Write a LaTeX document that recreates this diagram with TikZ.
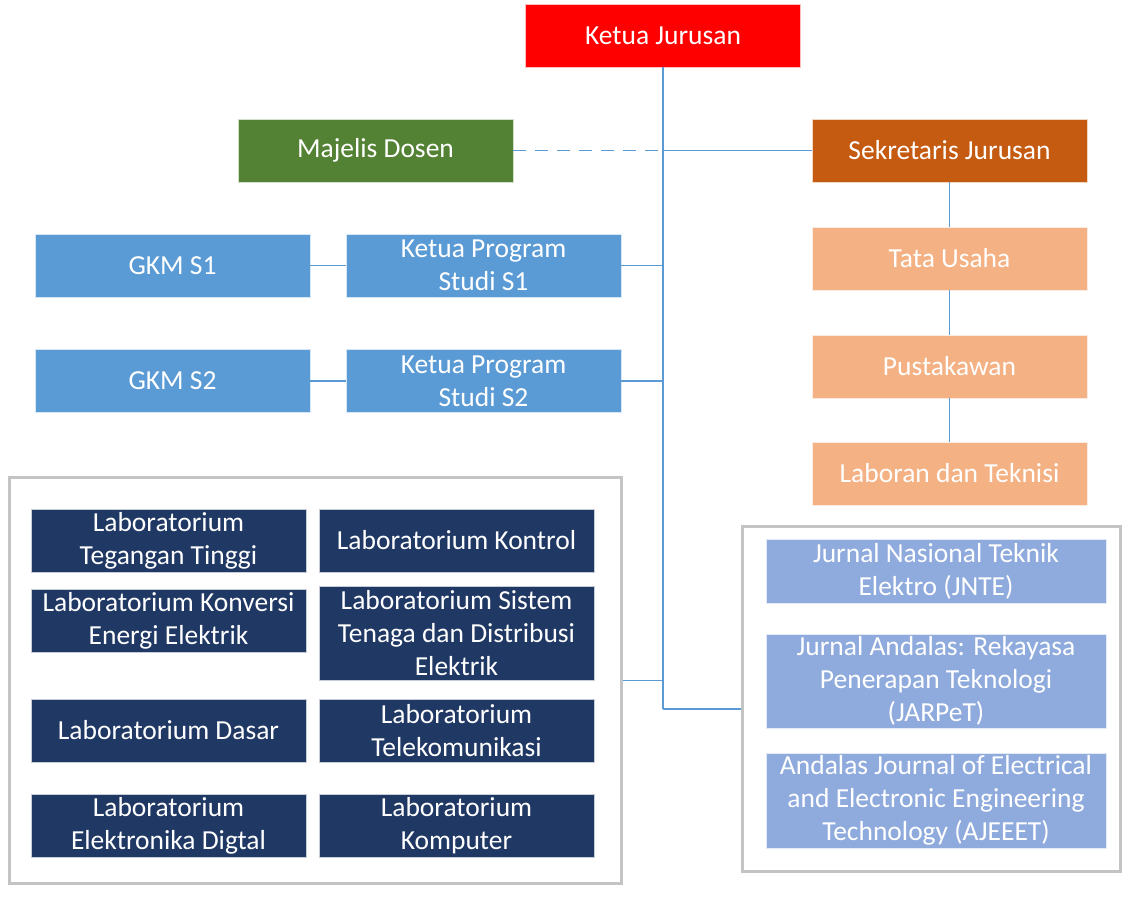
\documentclass[tikz,border=0pt]{standalone}
\usepackage{fontspec}
\setmainfont{Carlito}
\usepackage{tikz}
\usetikzlibrary{calc}
\definecolor{head-red}{RGB}{255,0,0}
\definecolor{council-green}{RGB}{84,130,53}
\definecolor{secretary-orange}{RGB}{197,90,17}
\definecolor{staff-peach}{RGB}{244,177,131}
\definecolor{study-blue}{RGB}{91,155,213}
\definecolor{lab-navy}{RGB}{32,56,100}
\definecolor{journal-blue}{RGB}{143,170,220}
\definecolor{frame-gray}{RGB}{196,196,196}
\definecolor{link-blue}{RGB}{91,155,213}
\tikzset{
    unit/.style = {
        fill=#1, text=white, draw=white!75!#1, line width=0.8pt,
        minimum width=275pt, minimum height=63pt, inner sep=0pt,
        align=center, font=\fontsize{27.5}{33}\selectfont
    },
    unit/.default={study-blue},
    frame/.style = {draw=frame-gray, line width=3pt, fill=white, inner sep=0pt},
    link/.style = {draw=link-blue, line width=1.6pt},
    link-dashed/.style = {link, dash pattern=on 13pt off 9pt},
}

\begin{document}
\begin{tikzpicture}[x=1pt,y=-1pt]
\useasboundingbox (0,0) rectangle (1130,898);

% frames
\node[frame, minimum width=612pt, minimum height=406pt] (labs) at (315.5,680.5) {};
\node[frame, minimum width=378pt, minimum height=345pt] (journals) at (931.5,699) {};

% top
\node[unit=head-red] (kajur) at (663,35.5) {Ketua Jurusan};
\node[unit=council-green] (majelis) at (375.5,150.5) {Majelis Dosen};
\node[unit=secretary-orange] (sekjur) at (949.5,150.5) {Sekretaris Jurusan};

% staff
\node[unit=staff-peach] (tu) at (949.5,258.5) {Tata Usaha};
\node[unit=staff-peach] (pustaka) at (949.5,366.5) {Pustakawan};
\node[unit=staff-peach] (laboran) at (949.5,473.5) {Laboran dan Teknisi};

% study programs
\node[unit] (gkm1) at (172.5,265.5) {GKM S1};
\node[unit] (kps1) at (483.5,265.5) {Ketua Program\\Studi S1};
\node[unit] (gkm2) at (172.5,381) {GKM S2};
\node[unit] (kps2) at (483.5,381) {Ketua Program\\Studi S2};

% laboratories
\node[unit=lab-navy] (lab-tt) at (168.5,540.5) {Laboratorium\\Tegangan Tinggi};
\node[unit=lab-navy] (lab-kontrol) at (456.5,540.5) {Laboratorium Kontrol};
\node[unit=lab-navy] (lab-konversi) at (168.5,620.5) {Laboratorium Konversi\\Energi Elektrik};
\node[unit=lab-navy, minimum height=94pt] (lab-sistem) at (456.5,633) {Laboratorium Sistem\\Tenaga dan Distribusi\\Elektrik};
\node[unit=lab-navy] (lab-dasar) at (168.5,730.5) {Laboratorium Dasar};
\node[unit=lab-navy] (lab-telkom) at (456.5,730.5) {Laboratorium\\Telekomunikasi};
\node[unit=lab-navy] (lab-digital) at (168.5,825.5) {Laboratorium\\Elektronika Digtal};
\node[unit=lab-navy] (lab-komputer) at (456.5,825.5) {Laboratorium\\Komputer};

% journals
\node[unit=journal-blue, minimum width=340pt, minimum height=64pt] (jnte) at (936,571) {Jurnal Nasional Teknik\\Elektro (JNTE)};
\node[unit=journal-blue, minimum width=340pt, minimum height=94pt] (jarpet) at (936,681) {Jurnal Andalas: Rekayasa\\Penerapan Teknologi\\(JARPeT)};
\node[unit=journal-blue, minimum width=340pt, minimum height=95pt] (ajeeet) at (936,800.5) {Andalas Journal of Electrical\\and Electronic Engineering\\Technology (AJEEET)};

% connectors
\coordinate (spine) at (663,709);
\draw[link] (kajur.south) -- (spine);
\draw[link] (spine) -- (spine -| journals.west);
\draw[link] (sekjur.west) -- (sekjur.west -| kajur.south);
\draw[link-dashed] (majelis.east) -- (majelis.east -| kajur.south);
\draw[link] (kps1.east) -- (kps1.east -| kajur.south);
\draw[link] (kps2.east) -- (kps2.east -| kajur.south);
\draw[link] (labs.east) -- (labs.east -| kajur.south);
\draw[link] (gkm1.east) -- (kps1.west);
\draw[link] (gkm2.east) -- (kps2.west);
\draw[link] (sekjur.south) -- (tu.north);
\draw[link] (tu.south) -- (pustaka.north);
\draw[link] (pustaka.south) -- (laboran.north);

\end{tikzpicture}
\end{document}
